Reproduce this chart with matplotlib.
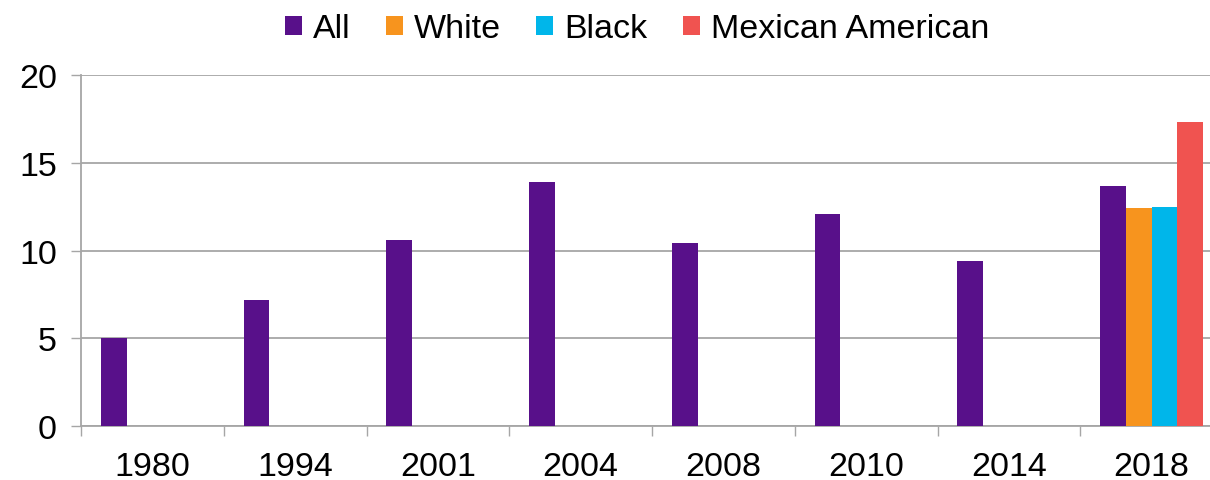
import matplotlib
matplotlib.use("Agg")
import matplotlib.pyplot as plt
import numpy as np

plt.rcParams['font.family'] = ['Liberation Sans', 'DejaVu Sans']

years = ["1980", "1994", "2001", "2004", "2008", "2010", "2014", "2018"]
series_names = ["All", "White", "Black", "Mexican American"]
all_vals = [5.0, 7.2, 10.6, 13.9, 10.4, 12.1, 9.4, 13.7]
white_vals = [np.nan] * 7 + [12.4]
black_vals = [np.nan] * 7 + [12.5]
mexam_vals = [np.nan] * 7 + [17.3]
colors = ["#58108A", "#F7941E", "#00B6EA", "#F05350"]

FS = 24.5

fig = plt.figure(figsize=(12.10, 4.81), dpi=100)
ax = fig.add_axes([81 / 1210, 1 - 427 / 481, 1 - 81 / 1210, (427 - 76) / 481])

x = np.arange(len(years))
w = 0.18
series = [all_vals, white_vals, black_vals, mexam_vals]
for i, (name, vals, c) in enumerate(zip(series_names, series, colors)):
    ax.bar(x + (i - 1.5) * w, vals, width=w, color=c, label=name, zorder=3)

ax.set_ylim(0, 20)
ax.set_xlim(-0.5, 7.5 - 13 / 142.7)
ax.set_yticks([0, 5, 10, 15, 20])
ax.yaxis.grid(True, color="#A6A6A6", linewidth=1.3, zorder=0)
ax.set_axisbelow(True)

ax.set_xticks(x)
ax.set_xticklabels(years)
ax.set_xticks(np.arange(-0.5, 7.5, 1.0), minor=True)
ax.tick_params(axis="x", which="major", length=0, pad=18, labelsize=FS)
ax.tick_params(axis="x", which="minor", length=7.2, width=1.0, color="#A6A6A6", direction="out")
ax.tick_params(axis="y", length=7.2, width=1.0, color="#A6A6A6", pad=10, labelsize=FS)

for s in ["top", "right"]:
    ax.spines[s].set_visible(False)
for s in ["left", "bottom"]:
    ax.spines[s].set_color("#A6A6A6")
    ax.spines[s].set_linewidth(1.3)

fig.legend(loc="center", bbox_to_anchor=(637 / 1210, 1 - 30 / 481), ncol=4,
           frameon=False, fontsize=FS, handlelength=0.5, handleheight=0.5,
           handletextpad=0.32, columnspacing=1.04, borderpad=0)

fig.savefig("out.png", dpi=100)
